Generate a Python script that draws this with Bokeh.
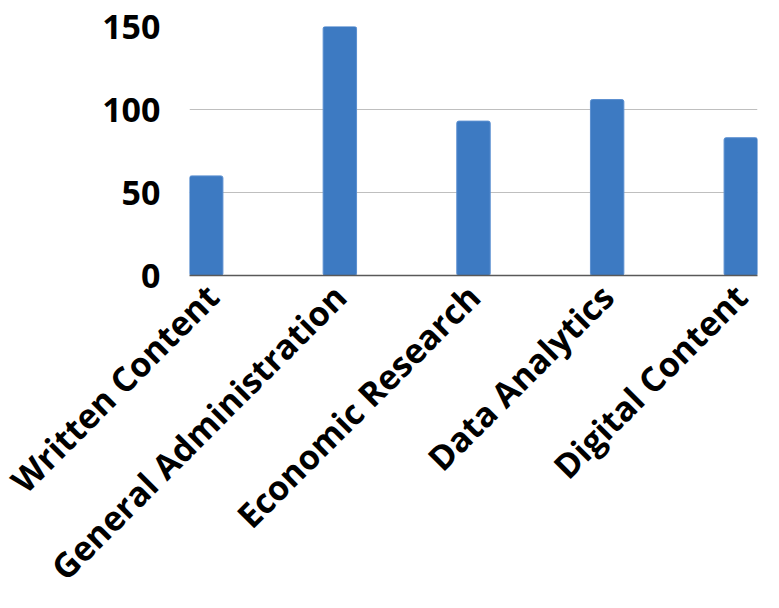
import math
from bokeh.plotting import figure
from bokeh.models import ColumnDataSource, FixedTicker, Range1d
from bokeh.embed import file_html
from bokeh.resources import INLINE

categories = ["Written Content", "General Administration", "Economic Research", "Data Analytics", "Digital Content"]
values = [60, 150, 93, 106, 83]
y_ticks = [0, 50, 100, 150]

xs = list(range(len(categories)))
bar_w = 0.25
source = ColumnDataSource(data=dict(x=xs, top=values, name=categories))

p = figure(width=779, height=608, output_backend="svg", toolbar_location=None,
           x_range=Range1d(-bar_w / 2, len(categories) - 1 + bar_w / 2),
           y_range=Range1d(0, 150),
           min_border_left=189, min_border_right=22, min_border_top=26, min_border_bottom=333)
p.outline_line_color = None
p.background_fill_color = "white"
p.border_fill_color = "white"

p.vbar(x="x", top="top", width=bar_w, source=source, fill_color="#3d7ac2",
       line_color="#5b8fd0", line_width=1, border_radius=2)

font = "Open Sans"
p.xaxis.ticker = FixedTicker(ticks=xs)
p.xaxis.major_label_overrides = {i: c for i, c in enumerate(categories)}
p.xaxis.major_label_orientation = math.pi / 4
p.xaxis.major_label_text_font = font
p.xaxis.major_label_text_font_style = "bold"
p.xaxis.major_label_text_font_size = "34px"
p.xaxis.major_label_text_color = "black"
p.xaxis.major_tick_line_color = None
p.xaxis.minor_tick_line_color = None
p.xaxis.axis_line_color = "#595959"
p.xaxis.axis_line_width = 1.5
p.xaxis.major_label_standoff = 9

p.yaxis.ticker = FixedTicker(ticks=y_ticks)
p.yaxis.major_label_text_font = font
p.yaxis.major_label_text_font_style = "bold"
p.yaxis.major_label_text_font_size = "34px"
p.yaxis.major_label_text_color = "black"
p.yaxis.axis_line_color = None
p.yaxis.major_tick_line_color = None
p.yaxis.minor_tick_line_color = None
p.yaxis.major_label_standoff = 23

p.xgrid.grid_line_color = None
p.ygrid.grid_line_color = "#bfbfbf"
p.ygrid.grid_line_width = 1

open("out.html", "w").write(file_html(p, INLINE))
